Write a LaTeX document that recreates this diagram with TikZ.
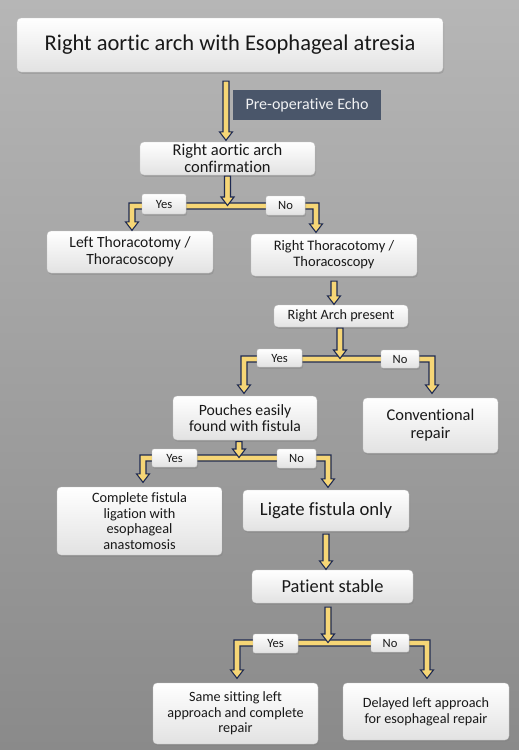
\documentclass[tikz,border=0pt]{standalone}
\usepackage{fontspec}
\setmainfont{Carlito}[Ligatures=CommonOff]
\usetikzlibrary{calc,shadows}
\definecolor{navy}{RGB}{30,42,82}
\definecolor{gold}{RGB}{246,214,118}
\definecolor{slate}{RGB}{74,86,106}
\definecolor{bgtop}{RGB}{182,182,182}
\definecolor{bgbot}{RGB}{138,138,138}
\definecolor{boxbot}{RGB}{226,226,226}
\tikzset{
  box/.style={rounded corners=4pt, top color=white, bottom color=boxbot, draw=gray!45, line width=0.3pt,
    drop shadow={shadow xshift=1pt, shadow yshift=-1.8pt, opacity=0.35}, align=center, inner sep=0pt, text=black!90},
  lbl/.style={box, rounded corners=2pt, font=\fontsize{12.6}{14}\selectfont},
  arrowfill/.style={fill=gold, draw=navy, line width=1.1pt, line join=miter},
}
\newcommand\varrow[2]{\filldraw[arrowfill] let \p1=#1, \p2=#2 in
  (\x2-3pt,\y1) -- (\x2+3pt,\y1) -- (\x2+3pt,\y2+9pt) -- (\x2+6.5pt,\y2+9pt) -- (\x2,\y2+0.5pt)
  -- (\x2-6.5pt,\y2+9pt) -- (\x2-3pt,\y2+9pt) -- cycle;}
\newcommand\splitarrow[3]{\filldraw[arrowfill] let \p1=#1, \p2=#2, \p3=#3 in
  (\x2-3pt,\y1+3pt) -- (\x3+3pt,\y1+3pt) -- (\x3+3pt,\y3+9pt) -- (\x3+6.5pt,\y3+9pt) -- (\x3,\y3+0.5pt)
  -- (\x3-6.5pt,\y3+9pt) -- (\x3-3pt,\y3+9pt) -- (\x3-3pt,\y1-3pt) -- (\x2+3pt,\y1-3pt)
  -- (\x2+3pt,\y2+9pt) -- (\x2+6.5pt,\y2+9pt) -- (\x2,\y2+0.5pt) -- (\x2-6.5pt,\y2+9pt) -- (\x2-3pt,\y2+9pt) -- cycle;}
\begin{document}
\begin{tikzpicture}[x=1pt,y=-1pt]
\useasboundingbox (0,0) rectangle (519,750);
\shade[top color=bgtop, bottom color=bgbot] (0,0) rectangle (519,750);

% boxes
\node[box, minimum width=426pt, minimum height=54pt, font=\fontsize{22.5}{27}\selectfont] (title) at (230,45) {Right aortic arch with Esophageal atresia};
\node[fill=slate, text=white!92!slate, minimum width=148pt, minimum height=30pt, inner sep=0pt, font=\fontsize{16}{19}\selectfont] (echo) at (307,105) {Pre-operative Echo};
\node[box, minimum width=175pt, minimum height=33pt, font=\fontsize{16.5}{17}\selectfont] (confirm) at (227.5,158.5) {Right aortic arch\\confirmation};
\node[box, minimum width=166pt, minimum height=42pt, font=\fontsize{15.6}{16.7}\selectfont] (leftbox) at (130,252) {Left Thoracotomy /\\Thoracoscopy};
\node[box, minimum width=166pt, minimum height=42pt, font=\fontsize{14.5}{16}\selectfont] (rightbox) at (334,255) {Right Thoracotomy /\\Thoracoscopy};
\node[box, minimum width=134pt, minimum height=22pt, font=\fontsize{14.2}{16}\selectfont] (rap) at (341,316) {Right Arch present};
\node[box, minimum width=144pt, minimum height=44pt, font=\fontsize{15.7}{16.5}\selectfont] (pouches) at (245,418) {Pouches easily\\found with fistula};
\node[box, minimum width=135pt, minimum height=55pt, font=\fontsize{16.4}{18}\selectfont] (conv) at (430.5,425.5) {Conventional\\repair};
\node[box, minimum width=165pt, minimum height=68pt, font=\fontsize{14.3}{15.7}\selectfont] (complete) at (139.5,521) {Complete fistula\\ligation with\\esophageal\\anastomosis};
\node[box, minimum width=166pt, minimum height=41pt, font=\fontsize{18.7}{21}\selectfont] (ligate) at (326,510.5) {Ligate fistula only};
\node[box, minimum width=161pt, minimum height=33pt, font=\fontsize{18.4}{21}\selectfont] (patient) at (332.5,586.5) {Patient stable};
\node[box, minimum width=165pt, minimum height=61pt, font=\fontsize{14.2}{15.7}\selectfont] (same) at (235.5,713.5) {Same sitting left\\approach and complete\\repair};
\node[box, minimum width=166pt, minimum height=57pt, font=\fontsize{14.2}{15.7}\selectfont] (delayed) at (426,711.5) {Delayed left approach\\for esophageal repair};

% bar centres
\coordinate (bar1) at (227.5,206);
\coordinate (bar2) at (340,359);
\coordinate (bar3) at (239,458);
\coordinate (bar4) at (328,643);

% split connectors
\splitarrow{(bar1)}{($(leftbox.north)+(2,0)$)}{($(rightbox.north)+(-18,-1)$)}
\splitarrow{(bar2)}{($(pouches.north)+(-1,-2)$)}{($(conv.north)+(1.5,-4)$)}
\splitarrow{(bar3)}{($(complete.north)+(3.5,-4)$)}{($(ligate.north)+(2,-2)$)}
\splitarrow{(bar4)}{($(same.north)+(1.5,-4)$)}{($(delayed.north)+(1,-4)$)}

% straight connectors
\varrow{($(title.south)+(0,9)$)}{($(confirm.north)+(-1.5,-1)$)}
\varrow{($(confirm.south)+(0,1)$)}{(bar1)}
\varrow{($(rightbox.south)+(0,5)$)}{(rap.north -| rightbox.south)}
\varrow{($(rap.south)+(0,1)$)}{(bar2)}
\varrow{($(pouches.south)+(0,1.5)$)}{(bar3)}
\varrow{($(ligate.south)+(0,3)$)}{(patient.north -| ligate.south)}
\varrow{($(patient.south)+(0,4)$)}{(bar4)}

% labels
\node[lbl, minimum width=44pt, minimum height=20pt] (y1) at (164,204) {Yes};
\node[lbl, minimum width=39pt, minimum height=19pt] (n1) at (285.5,205.5) {No};
\node[lbl, minimum width=45pt, minimum height=18pt] (y2) at (279.5,358) {Yes};
\node[lbl, minimum width=38pt, minimum height=18pt] (n2) at (400,359) {No};
\node[lbl, minimum width=45pt, minimum height=18pt] (y3) at (174.5,458) {Yes};
\node[lbl, minimum width=39pt, minimum height=19pt] (n3) at (296.5,458.5) {No};
\node[lbl, minimum width=45pt, minimum height=19pt] (y4) at (275.5,643.5) {Yes};
\node[lbl, minimum width=38pt, minimum height=18pt] (n4) at (390,643) {No};
\end{tikzpicture}
\end{document}
